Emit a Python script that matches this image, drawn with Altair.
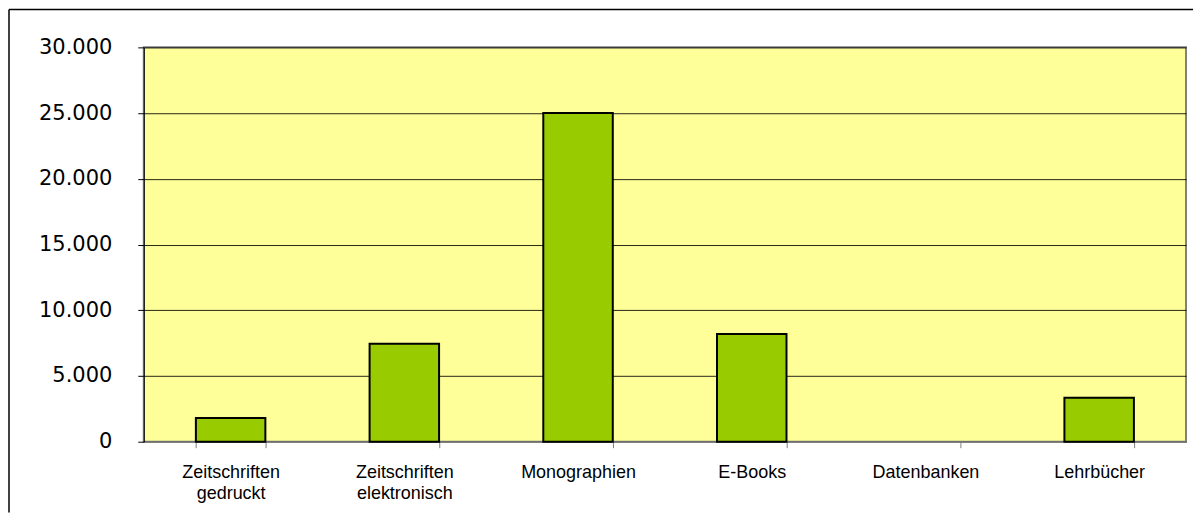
import altair as alt
import pandas as pd

categories = ["Zeitschriften gedruckt", "Zeitschriften elektronisch", "Monographien",
              "E-Books", "Datenbanken", "Lehrbücher"]
values = [1800, 7450, 25000, 8200, 0, 3350]
y_ticks = [0, 5000, 10000, 15000, 20000, 25000, 30000]

df = pd.DataFrame({"cat": categories, "val": values})

W, H = 1044, 395

bars = alt.Chart(df).mark_bar(color="#99CC00", stroke="#000000").encode(
    x=alt.X("cat:N", sort=categories, title=None,
            scale=alt.Scale(paddingInner=0.6, paddingOuter=0.3),
            axis=alt.Axis(labelAngle=0, labelExpr="split(datum.label, ' ')",
                          labelFont="Liberation Sans", labelFontSize=18,
                          labelColor="#000000", labelLineHeight=21,
                          labelPadding=16, tickSize=6, tickBand="extent",
                          domainColor="#808080", tickColor="#808080",
                          domainWidth=1.5, grid=False, labelBaseline="top")),
    y=alt.Y("val:Q", title=None,
            scale=alt.Scale(domain=[0, 30000], nice=False),
            axis=alt.Axis(values=y_ticks,
                          labelExpr="replace(format(datum.value, ',d'), ',', '.')",
                          labelFont="DejaVu Sans", labelFontSize=21,
                          labelColor="#000000", labelPadding=26, tickSize=6,
                          domainColor="#000000", tickColor="#000000",
                          gridColor="#000000", gridWidth=1, gridOpacity=0.85)),
    strokeWidth=alt.condition(alt.datum.val > 0, alt.value(2), alt.value(0)),
)

frame_df = pd.DataFrame({"k": [0]})
top_line = alt.Chart(frame_df).mark_rule(color="#000000", strokeWidth=1.5).encode(
    x=alt.value(-135), x2=alt.value(1051), y=alt.value(-38))
left_line = alt.Chart(frame_df).mark_rule(color="#000000", strokeWidth=1.5).encode(
    x=alt.value(-135), y=alt.value(-38), y2=alt.value(466))

chart = alt.layer(bars, top_line, left_line).properties(
    width=W, height=H, padding=0, background="#FFFFFF"
).configure_view(fill="#FFFF99", stroke="#808080", strokeWidth=2)

chart.save("out.html", embed_options={"renderer": "svg", "actions": False})
